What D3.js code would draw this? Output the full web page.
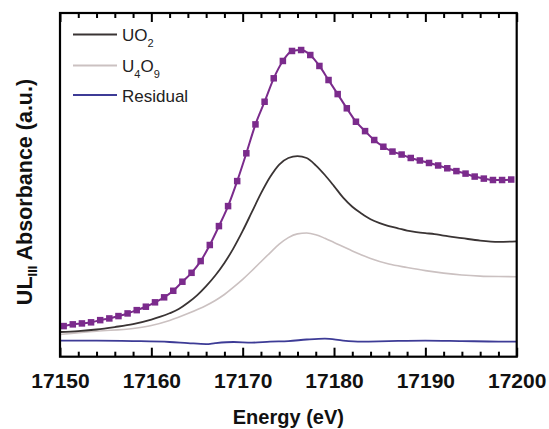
<!DOCTYPE html>
<html>
<head>
<meta charset="utf-8">
<script src="https://cdn.jsdelivr.net/npm/d3@7"></script>
<style>
  html, body { margin: 0; padding: 0; background: #fff; }
  svg { display: block; }
  text { font-family: "Liberation Sans", Arial, Helvetica, sans-serif; }
</style>
</head>
<body>
<svg id="chart" width="549" height="429"></svg>
<script>
// ---- data ----
const fitEnergy = [17150.4,17151.4,17152.4,17153.4,17154.4,17155.4,17156.4,17157.4,17158.4,17159.4,
  17160.4,17161.4,17162.4,17163.4,17164.4,17165.4,17166.4,17167.4,17168.4,17169.4,
  17170.4,17171.4,17172.4,17173.4,17174.4,17175.4,17176.4,17177.4,17178.4,17179.4,
  17180.4,17181.4,17182.4,17183.4,17184.4,17185.4,17186.4,17187.4,17188.4,17189.4,
  17190.4,17191.4,17192.4,17193.4,17194.4,17195.4,17196.4,17197.4,17198.4,17199.4];
const fitValues = [0.096,0.107,0.113,0.120,0.134,0.145,0.160,0.177,0.198,0.220,
  0.248,0.280,0.322,0.380,0.437,0.512,0.615,0.736,0.864,1.024,
  1.202,1.387,1.532,1.682,1.793,1.857,1.863,1.831,1.761,1.671,
  1.581,1.490,1.404,1.344,1.287,1.244,1.213,1.194,1.172,1.156,
  1.140,1.124,1.106,1.088,1.072,1.053,1.040,1.031,1.031,1.034];

const uo2Energy = [17150,17152,17154,17156,17158,17160,17161,17162,17163,17164,17165,17166,17167,17168,17169,
  17170,17171,17172,17173,17174,17175,17176,17177,17178,17179,17180,17181,17182,17183,17184,17185,
  17186,17187,17188,17189,17190,17191,17192,17194,17196,17198,17200];
const uo2Values = [0.058,0.064,0.074,0.090,0.109,0.138,0.156,0.178,0.205,0.245,0.293,0.352,0.420,0.500,0.595,
  0.705,0.825,0.945,1.050,1.130,1.172,1.184,1.172,1.125,1.063,0.992,0.918,0.860,0.817,0.780,0.755,
  0.736,0.722,0.707,0.698,0.691,0.685,0.675,0.659,0.643,0.635,0.638];

const u4o9Energy = [17150,17154,17158,17160,17162,17164,17166,17167,17168,17169,17170,17171,17172,17173,17174,
  17175,17176,17177,17178,17179,17180,17182,17184,17186,17188,17190,17192,17194,17196,17198,17200];
const u4o9Values = [0.042,0.064,0.081,0.100,0.132,0.176,0.228,0.260,0.298,0.345,0.395,0.450,0.508,0.565,0.620,
  0.662,0.686,0.692,0.681,0.658,0.631,0.577,0.529,0.493,0.471,0.451,0.435,0.423,0.416,0.413,0.412];

const residEnergy = [17150,17154,17158,17162,17164,17166,17167,17169,17171,17173,17175,17177,17179,17181,17183,17186,17190,17194,17198,17200];
const residValues = [0.003,0.003,0.000,-0.006,-0.013,-0.019,-0.013,-0.006,-0.010,-0.003,0.000,0.010,0.016,0.003,-0.003,0.000,0.003,0.000,-0.003,-0.003];

const majorTicks = [17150,17160,17170,17180,17190,17200];
const minorTicks = [17152,17154,17156,17158,17162,17164,17166,17168,17172,17174,17176,17178,17182,17184,17186,17188,17192,17194,17196,17198];

const colors = { fit: "#7b2b8c", uo2: "#3a3434", u4o9: "#cbc1c1", resid: "#3d3b96" };

// ---- layout ----
const svg = d3.select("#chart");
const L = 60, R = 516.7, T = 13, B = 356.7;
const x = d3.scaleLinear().domain([17150, 17200]).range([L, R]);
const y = d3.scaleLinear().domain([-0.1, 2.1]).range([B, T]);

const line = d3.line().x(d => x(d[0])).y(d => y(d[1])).curve(d3.curveMonotoneX);

const plot = svg.append("g");

plot.append("path").datum(u4o9Energy.map((e, i) => [e, u4o9Values[i]]))
  .attr("d", line).attr("fill", "none").attr("stroke", colors.u4o9).attr("stroke-width", 1.6);
plot.append("path").datum(uo2Energy.map((e, i) => [e, uo2Values[i]]))
  .attr("d", line).attr("fill", "none").attr("stroke", colors.uo2).attr("stroke-width", 1.8);
plot.append("path").datum(residEnergy.map((e, i) => [e, residValues[i]]))
  .attr("d", line).attr("fill", "none").attr("stroke", colors.resid).attr("stroke-width", 1.8);

const fitData = fitEnergy.map((e, i) => [e, fitValues[i]]);
plot.append("path").datum(fitData)
  .attr("d", line).attr("fill", "none").attr("stroke", colors.fit).attr("stroke-width", 2);
const ms = 6.5;
plot.selectAll("rect.mk").data(fitData).enter().append("rect")
  .attr("class", "mk")
  .attr("x", d => x(d[0]) - ms / 2).attr("y", d => y(d[1]) - ms / 2)
  .attr("width", ms).attr("height", ms).attr("fill", colors.fit);

// ---- axes ----
function styleAxis(g) {
  g.select(".domain").remove();
  g.selectAll(".tick line").attr("stroke", "#000").attr("stroke-width", 2);
}
svg.append("g").attr("transform", `translate(0,${B})`)
  .call(d3.axisBottom(x).tickValues(majorTicks).tickSize(-9).tickPadding(20).tickFormat(d3.format("d")))
  .call(styleAxis)
  .call(g => g.selectAll("text").attr("font-size", 21).attr("font-weight", "bold")
    .attr("fill", "#111").attr("dy", "0").attr("y", 31));
svg.append("g").attr("transform", `translate(0,${B})`)
  .call(d3.axisBottom(x).tickValues(minorTicks).tickSize(-5).tickFormat(""))
  .call(styleAxis);
svg.append("g").attr("transform", `translate(0,${T})`)
  .call(d3.axisTop(x).tickValues(majorTicks).tickSize(-9).tickFormat(""))
  .call(styleAxis);
svg.append("g").attr("transform", `translate(0,${T})`)
  .call(d3.axisTop(x).tickValues(minorTicks).tickSize(-5).tickFormat(""))
  .call(styleAxis);

// frame
svg.append("rect").attr("x", L).attr("y", T).attr("width", R - L).attr("height", B - T)
  .attr("fill", "none").attr("stroke", "#000").attr("stroke-width", 2.2);

// ---- axis titles ----
svg.append("text").attr("x", (L + R) / 2).attr("y", 424)
  .attr("text-anchor", "middle").attr("font-size", 20).attr("font-weight", "bold").attr("fill", "#111")
  .text("Energy (eV)");

const yt = svg.append("text").attr("transform", `translate(32,${192}) rotate(-90)`)
  .attr("text-anchor", "middle").attr("font-size", 21.5).attr("font-weight", "bold").attr("fill", "#111");
yt.append("tspan").text("UL");
yt.append("tspan").attr("font-size", 13).attr("dy", 5).text("III");
yt.append("tspan").attr("dy", -5).text(" Absorbance (a.u.)");

// ---- legend ----
const legendItems = [
  { parts: [["UO", false], ["2", true]], color: colors.uo2, yy: 34.5 },
  { parts: [["U", false], ["4", true], ["O", false], ["9", true]], color: colors.u4o9, yy: 65.5 },
  { parts: [["Residual", false]], color: colors.resid, yy: 95 }
];
const lg = svg.append("g");
legendItems.forEach(it => {
  lg.append("line").attr("x1", 73).attr("x2", 117).attr("y1", it.yy).attr("y2", it.yy)
    .attr("stroke", it.color).attr("stroke-width", 2);
  const t = lg.append("text").attr("x", 122).attr("y", it.yy + 6.5)
    .attr("font-size", 17).attr("fill", "#222");
  let sub = false;
  it.parts.forEach(([s, isSub]) => {
    const dy = isSub && !sub ? 6 : (!isSub && sub ? -6 : 0);
    t.append("tspan").attr("font-size", isSub ? 11 : 17).attr("dy", dy).text(s);
    sub = isSub;
  });
});
</script>
</body>
</html>
